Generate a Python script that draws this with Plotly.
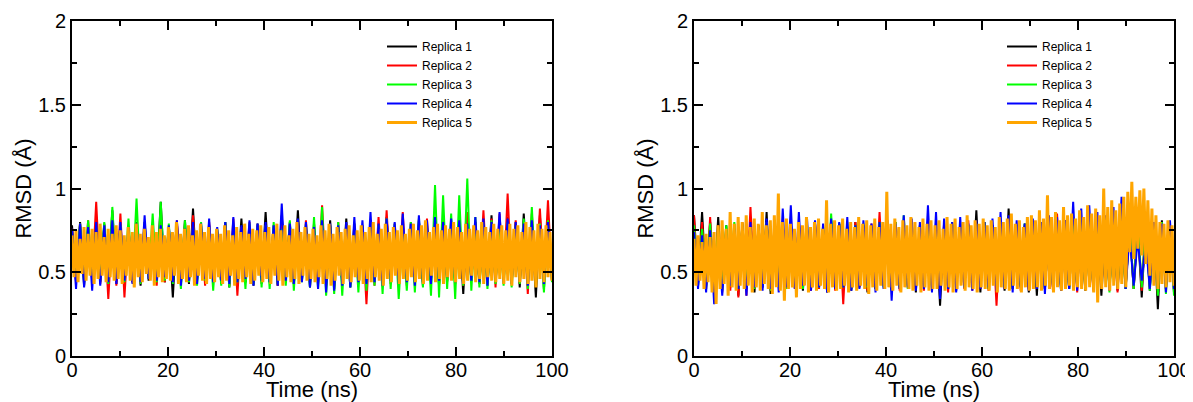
import numpy as np
import plotly.graph_objects as go

labels = ["Replica 1", "Replica 2", "Replica 3", "Replica 4", "Replica 5"]
colors = ["#000000", "#ff0000", "#00ff00", "#0000ff", "#ffa500"]

# ---- left panel, RMSD in Angstrom ----
left_r1 = [
    0.78, 0.45, 0.80, 0.42, 0.76, 0.47, 0.82, 0.44, 0.79, 0.46, 0.87, 0.43,
    0.77, 0.46, 0.74, 0.44, 0.80, 0.42, 0.76, 0.45, 0.78, 0.47, 0.92, 0.44,
    0.75, 0.35, 0.79, 0.46, 0.81, 0.43, 0.88, 0.45, 0.76, 0.44, 0.78, 0.47,
    0.74, 0.43, 0.80, 0.41, 0.77, 0.46, 0.82, 0.44, 0.75, 0.42, 0.79, 0.45,
    0.86, 0.44, 0.78, 0.42, 0.84, 0.46, 0.80, 0.43, 0.87, 0.45, 0.76, 0.41,
    0.79, 0.44, 0.75, 0.42, 0.81, 0.40, 0.77, 0.45, 0.82, 0.41, 0.74, 0.43,
    0.78, 0.40, 0.80, 0.44, 0.76, 0.42, 0.83, 0.45, 0.77, 0.43, 0.79, 0.46,
    0.75, 0.44, 0.81, 0.42, 0.77, 0.46, 0.79, 0.43, 0.80, 0.45, 0.76, 0.44,
    0.78, 0.37, 0.82, 0.45, 0.80, 0.43, 0.76, 0.42, 0.84, 0.44, 0.79, 0.46,
    0.83, 0.43, 0.80, 0.41, 0.85, 0.44, 0.78, 0.35, 0.84, 0.40, 0.81, 0.45,
]
left_r2 = [
    0.76, 0.44, 0.79, 0.46, 0.81, 0.45, 0.92, 0.43, 0.78, 0.34, 0.77, 0.42,
    0.85, 0.35, 0.76, 0.44, 0.78, 0.43, 0.80, 0.46, 0.75, 0.42, 0.79, 0.44,
    0.77, 0.45, 0.81, 0.43, 0.76, 0.44, 0.84, 0.46, 0.78, 0.42, 0.80, 0.45,
    0.75, 0.43, 0.79, 0.42, 0.82, 0.36, 0.77, 0.44, 0.80, 0.45, 0.76, 0.43,
    0.78, 0.44, 0.76, 0.42, 0.80, 0.45, 0.77, 0.43, 0.79, 0.46, 0.81, 0.44,
    0.75, 0.43, 0.90, 0.45, 0.78, 0.42, 0.80, 0.44, 0.76, 0.43, 0.79, 0.45,
    0.77, 0.31, 0.80, 0.42, 0.83, 0.44, 0.87, 0.43, 0.79, 0.45, 0.86, 0.42,
    0.80, 0.44, 0.78, 0.43, 0.82, 0.45, 0.79, 0.42, 0.81, 0.44, 0.77, 0.43,
    0.84, 0.42, 0.86, 0.45, 0.80, 0.43, 0.87, 0.44, 0.82, 0.41, 0.85, 0.43,
    0.97, 0.44, 0.81, 0.43, 0.79, 0.37, 0.85, 0.42, 0.88, 0.44, 0.93, 0.45,
]
left_r3 = [
    0.74, 0.46, 0.79, 0.44, 0.81, 0.47, 0.77, 0.45, 0.80, 0.43, 0.89, 0.46,
    0.78, 0.44, 0.82, 0.45, 0.94, 0.43, 0.80, 0.46, 0.85, 0.44, 0.92, 0.45,
    0.79, 0.43, 0.76, 0.40, 0.81, 0.44, 0.78, 0.42, 0.80, 0.45, 0.77, 0.39,
    0.76, 0.42, 0.80, 0.41, 0.78, 0.44, 0.75, 0.40, 0.79, 0.43, 0.77, 0.41,
    0.78, 0.40, 0.80, 0.43, 0.76, 0.42, 0.81, 0.39, 0.77, 0.44, 0.79, 0.41,
    0.83, 0.40, 0.89, 0.36, 0.78, 0.37, 0.80, 0.36, 0.76, 0.41, 0.79, 0.38,
    0.77, 0.39, 0.80, 0.42, 0.78, 0.37, 0.82, 0.40, 0.79, 0.34, 0.76, 0.39,
    0.80, 0.38, 0.82, 0.41, 0.79, 0.36, 1.02, 0.35, 0.96, 0.40, 0.85, 0.34,
    0.96, 0.42, 1.06, 0.39, 0.83, 0.41, 0.79, 0.40, 0.81, 0.43, 0.78, 0.42,
    0.80, 0.41, 0.78, 0.43, 0.82, 0.40, 0.89, 0.42, 0.79, 0.38, 0.81, 0.44,
]
left_r4 = [
    0.76, 0.40, 0.79, 0.41, 0.77, 0.39, 0.80, 0.42, 0.78, 0.44, 0.81, 0.43,
    0.80, 0.45, 0.77, 0.43, 0.79, 0.44, 0.84, 0.46, 0.60, 0.45, 0.78, 0.47,
    0.78, 0.44, 0.81, 0.42, 0.76, 0.45, 0.80, 0.43, 0.79, 0.46, 0.82, 0.44,
    0.77, 0.45, 0.80, 0.43, 0.83, 0.44, 0.78, 0.46, 0.81, 0.42, 0.79, 0.45,
    0.80, 0.44, 0.78, 0.42, 0.91, 0.45, 0.79, 0.43, 0.82, 0.44, 0.80, 0.41,
    0.77, 0.40, 0.81, 0.38, 0.79, 0.39, 0.78, 0.42, 0.80, 0.41, 0.83, 0.44,
    0.81, 0.43, 0.86, 0.44, 0.79, 0.42, 0.82, 0.45, 0.80, 0.43, 0.85, 0.44,
    0.79, 0.42, 0.84, 0.44, 0.81, 0.43, 0.83, 0.45, 0.80, 0.47, 0.82, 0.44,
    0.81, 0.43, 0.79, 0.45, 0.83, 0.44, 0.82, 0.42, 0.80, 0.46, 0.86, 0.44,
    0.82, 0.43, 0.80, 0.45, 0.79, 0.42, 0.81, 0.44, 0.78, 0.43, 0.80, 0.46,
]
left_r5 = [
    0.72, 0.47, 0.75, 0.44, 0.70, 0.49, 0.77, 0.45, 0.73, 0.48, 0.76, 0.43, 0.74, 0.46, 0.79, 0.48, 0.71, 0.44, 0.76, 0.47, 0.73, 0.45, 0.78, 0.46,
    0.75, 0.43, 0.72, 0.48, 0.77, 0.45, 0.74, 0.41, 0.79, 0.47, 0.73, 0.44, 0.76, 0.49, 0.71, 0.45, 0.78, 0.42, 0.74, 0.47, 0.76, 0.44, 0.72, 0.46,
    0.77, 0.45, 0.74, 0.48, 0.80, 0.43, 0.73, 0.46, 0.76, 0.44, 0.78, 0.47, 0.72, 0.42, 0.75, 0.48, 0.79, 0.45, 0.74, 0.43, 0.77, 0.46, 0.73, 0.44,
    0.76, 0.47, 0.73, 0.43, 0.78, 0.45, 0.75, 0.48, 0.72, 0.42, 0.77, 0.46, 0.74, 0.44, 0.79, 0.47, 0.73, 0.43, 0.76, 0.45, 0.75, 0.48, 0.78, 0.44,
    0.74, 0.46, 0.77, 0.43, 0.73, 0.48, 0.79, 0.45, 0.75, 0.42, 0.78, 0.47, 0.72, 0.44, 0.76, 0.46, 0.80, 0.43, 0.74, 0.48, 0.77, 0.45, 0.73, 0.46,
    0.76, 0.44, 0.72, 0.47, 0.78, 0.43, 0.75, 0.46, 0.79, 0.42, 0.73, 0.45, 0.77, 0.48, 0.74, 0.43, 0.76, 0.46, 0.78, 0.44, 0.72, 0.47, 0.75, 0.45,
    0.78, 0.43, 0.74, 0.46, 0.77, 0.44, 0.80, 0.47, 0.73, 0.45, 0.76, 0.42, 0.79, 0.46, 0.74, 0.44, 0.77, 0.48, 0.75, 0.43, 0.78, 0.46, 0.73, 0.45,
    0.76, 0.47, 0.79, 0.44, 0.75, 0.46, 0.78, 0.43, 0.81, 0.45, 0.74, 0.48, 0.77, 0.44, 0.79, 0.46, 0.75, 0.43, 0.78, 0.47, 0.76, 0.45, 0.80, 0.44,
    0.77, 0.46, 0.74, 0.43, 0.79, 0.45, 0.76, 0.48, 0.78, 0.44, 0.75, 0.46, 0.80, 0.43, 0.77, 0.47, 0.74, 0.45, 0.79, 0.44, 0.76, 0.46, 0.78, 0.43,
    0.75, 0.45, 0.79, 0.42, 0.76, 0.47, 0.78, 0.44, 0.74, 0.46, 0.80, 0.43, 0.77, 0.45, 0.75, 0.41, 0.79, 0.46, 0.76, 0.44, 0.78, 0.47, 0.74, 0.45,
]

# ---- right panel ----
right_r1 = [
    0.84, 0.44, 0.86, 0.42, 0.80, 0.40, 0.83, 0.43, 0.78, 0.41, 0.76, 0.36,
    0.79, 0.40, 0.81, 0.38, 0.78, 0.41, 0.86, 0.37, 0.80, 0.42, 0.77, 0.40,
    0.78, 0.41, 0.80, 0.39, 0.76, 0.40, 0.79, 0.42, 0.77, 0.38, 0.81, 0.40,
    0.79, 0.40, 0.77, 0.39, 0.80, 0.41, 0.78, 0.38, 0.76, 0.40, 0.79, 0.42,
    0.77, 0.39, 0.80, 0.40, 0.78, 0.42, 0.79, 0.38, 0.77, 0.41, 0.80, 0.39,
    0.78, 0.30, 0.76, 0.40, 0.79, 0.39, 0.80, 0.41, 0.78, 0.40, 0.87, 0.38,
    0.80, 0.40, 0.78, 0.41, 0.79, 0.39, 0.88, 0.40, 0.77, 0.42, 0.79, 0.38,
    0.78, 0.36, 0.80, 0.40, 0.79, 0.41, 0.77, 0.39, 0.81, 0.40, 0.80, 0.41,
    0.80, 0.39, 0.81, 0.40, 0.78, 0.36, 0.79, 0.41, 0.80, 0.39, 0.78, 0.40,
    0.79, 0.40, 0.77, 0.35, 0.80, 0.39, 0.78, 0.28, 0.81, 0.40, 0.79, 0.38,
]
right_r2 = [
    0.84, 0.42, 0.80, 0.40, 0.83, 0.41, 0.78, 0.38, 0.76, 0.39, 0.79, 0.35,
    0.80, 0.36, 0.89, 0.40, 0.78, 0.41, 0.80, 0.39, 0.77, 0.42, 0.79, 0.40,
    0.78, 0.40, 0.80, 0.41, 0.77, 0.39, 0.79, 0.40, 0.76, 0.42, 0.78, 0.39,
    0.79, 0.31, 0.77, 0.40, 0.80, 0.41, 0.78, 0.39, 0.79, 0.40, 0.86, 0.42,
    0.78, 0.40, 0.80, 0.39, 0.79, 0.41, 0.77, 0.40, 0.78, 0.39, 0.80, 0.41,
    0.77, 0.40, 0.79, 0.38, 0.80, 0.41, 0.78, 0.40, 0.81, 0.39, 0.79, 0.40,
    0.80, 0.39, 0.78, 0.30, 0.79, 0.40, 0.80, 0.41, 0.77, 0.39, 0.78, 0.40,
    0.79, 0.41, 0.80, 0.40, 0.78, 0.39, 0.85, 0.41, 0.79, 0.40, 0.80, 0.38,
    0.81, 0.40, 0.79, 0.39, 0.80, 0.41, 0.78, 0.40, 0.79, 0.38, 0.80, 0.41,
    0.78, 0.40, 0.79, 0.39, 0.80, 0.41, 0.78, 0.37, 0.79, 0.40, 0.77, 0.39,
]
right_r3 = [
    0.78, 0.42, 0.76, 0.40, 0.79, 0.41, 0.77, 0.39, 0.78, 0.42, 0.80, 0.40,
    0.79, 0.41, 0.77, 0.40, 0.78, 0.42, 0.80, 0.39, 0.79, 0.41, 0.78, 0.40,
    0.80, 0.41, 0.78, 0.40, 0.79, 0.42, 0.77, 0.41, 0.78, 0.40, 0.85, 0.42,
    0.79, 0.41, 0.80, 0.40, 0.78, 0.42, 0.79, 0.41, 0.77, 0.40, 0.80, 0.41,
    0.78, 0.42, 0.80, 0.41, 0.84, 0.40, 0.79, 0.42, 0.78, 0.41, 0.80, 0.40,
    0.79, 0.41, 0.78, 0.40, 0.80, 0.42, 0.79, 0.41, 0.78, 0.40, 0.79, 0.41,
    0.80, 0.40, 0.78, 0.42, 0.79, 0.41, 0.80, 0.40, 0.78, 0.41, 0.79, 0.42,
    0.78, 0.41, 0.80, 0.40, 0.79, 0.42, 0.78, 0.41, 0.80, 0.40, 0.79, 0.41,
    0.80, 0.40, 0.79, 0.41, 0.78, 0.42, 0.80, 0.38, 0.79, 0.41, 0.78, 0.40,
    0.79, 0.40, 0.80, 0.41, 0.78, 0.39, 0.79, 0.36, 0.80, 0.37, 0.78, 0.36,
]
right_r4 = [
    0.74, 0.40, 0.72, 0.38, 0.75, 0.31, 0.70, 0.36, 0.73, 0.42, 0.76, 0.40,
    0.78, 0.36, 0.80, 0.41, 0.77, 0.39, 0.82, 0.40, 0.79, 0.38, 0.88, 0.41,
    0.90, 0.40, 0.86, 0.42, 0.83, 0.39, 0.81, 0.41, 0.79, 0.38, 0.82, 0.40,
    0.80, 0.41, 0.83, 0.39, 0.78, 0.40, 0.81, 0.42, 0.79, 0.38, 0.80, 0.40,
    0.81, 0.33, 0.79, 0.40, 0.84, 0.41, 0.82, 0.39, 0.80, 0.40, 0.90, 0.38,
    0.86, 0.34, 0.82, 0.40, 0.80, 0.38, 0.83, 0.41, 0.79, 0.39, 0.81, 0.40,
    0.80, 0.41, 0.82, 0.39, 0.86, 0.40, 0.84, 0.38, 0.81, 0.41, 0.79, 0.39,
    0.82, 0.40, 0.80, 0.37, 0.84, 0.41, 0.83, 0.39, 0.81, 0.40, 0.92, 0.39,
    0.88, 0.41, 0.90, 0.40, 0.86, 0.42, 0.84, 0.39, 0.89, 0.41, 0.95, 0.40,
    0.72, 0.42, 0.70, 0.45, 0.68, 0.40, 0.80, 0.42, 0.79, 0.38, 0.81, 0.40,
]
right_r5 = [
    0.70, 0.42, 0.72, 0.45, 0.68, 0.40, 0.73, 0.44, 0.71, 0.38, 0.74, 0.31, 0.78, 0.40, 0.81, 0.43, 0.76, 0.36, 0.86, 0.41, 0.79, 0.39, 0.83, 0.42,
    0.80, 0.40, 0.84, 0.42, 0.77, 0.38, 0.82, 0.41, 0.79, 0.39, 0.86, 0.43, 0.78, 0.40, 0.81, 0.37, 0.84, 0.41, 0.97, 0.39, 0.80, 0.33, 0.82, 0.40,
    0.79, 0.41, 0.76, 0.35, 0.80, 0.40, 0.78, 0.42, 0.83, 0.38, 0.77, 0.41, 0.80, 0.39, 0.82, 0.42, 0.76, 0.40, 0.93, 0.38, 0.79, 0.41, 0.81, 0.39,
    0.78, 0.40, 0.82, 0.42, 0.76, 0.38, 0.80, 0.41, 0.77, 0.39, 0.83, 0.42, 0.79, 0.40, 0.81, 0.37, 0.78, 0.41, 0.82, 0.39, 0.77, 0.42, 0.80, 0.40,
    0.98, 0.41, 0.79, 0.39, 0.82, 0.42, 0.77, 0.38, 0.81, 0.41, 0.78, 0.40, 0.83, 0.39, 0.80, 0.42, 0.77, 0.38, 0.82, 0.41, 0.79, 0.39, 0.81, 0.40,
    0.78, 0.40, 0.81, 0.42, 0.76, 0.39, 0.83, 0.41, 0.79, 0.38, 0.82, 0.40, 0.77, 0.42, 0.80, 0.39, 0.84, 0.41, 0.78, 0.40, 0.81, 0.38, 0.79, 0.41,
    0.82, 0.40, 0.78, 0.39, 0.81, 0.42, 0.77, 0.38, 0.83, 0.41, 0.80, 0.40, 0.82, 0.39, 0.85, 0.42, 0.79, 0.40, 0.81, 0.38, 0.77, 0.41, 0.83, 0.39,
    0.84, 0.40, 0.81, 0.41, 0.87, 0.39, 0.82, 0.42, 0.96, 0.40, 0.83, 0.38, 0.86, 0.41, 0.81, 0.39, 0.89, 0.40, 0.84, 0.42, 0.85, 0.39, 0.82, 0.41,
    0.87, 0.40, 0.83, 0.39, 0.90, 0.41, 0.85, 0.38, 0.88, 0.32, 0.84, 0.40, 1.00, 0.41, 0.89, 0.39, 0.93, 0.42, 0.87, 0.40, 0.91, 0.43, 0.95, 0.41,
    0.98, 0.62, 1.04, 0.58, 0.95, 0.64, 0.99, 0.60, 1.00, 0.55, 0.93, 0.48, 0.88, 0.42, 0.84, 0.40, 0.80, 0.43, 0.79, 0.41, 0.81, 0.44, 0.78, 0.42,
]

left_series = [left_r1, left_r2, left_r3, left_r4, left_r5]
right_series = [right_r1, right_r2, right_r3, right_r4, right_r5]

font_family = "Liberation Sans, Arial, sans-serif"

# the page body adds an 8 px margin, so the figure is drawn 8 px smaller
W, H = 1185, 394


def axis_style(dtick, minor_dtick, rng, domain, anchor, title, standoff, label_shift):
    return dict(
        domain=domain, anchor=anchor, range=rng, dtick=dtick, automargin=False,
        ticks="inside", ticklen=9, tickwidth=1.5, tickcolor="black",
        minor=dict(dtick=minor_dtick, ticks="inside", ticklen=5, tickwidth=1.5,
                   tickcolor="black", showgrid=False),
        showline=True, linewidth=2, linecolor="black", mirror="ticks",
        showgrid=False, zeroline=False, ticklabelstandoff=label_shift,
        tickfont=dict(size=20, color="black"),
        title=dict(text=title, font=dict(size=22, color="black"), standoff=standoff),
    )


fig = go.Figure()

for series, xa, ya, leg in [(left_series, "x", "y", "legend"),
                            (right_series, "x2", "y2", "legend2")]:
    for i, vals in enumerate(series):
        time = np.linspace(0, 100, len(vals))
        fig.add_trace(go.Scatter(
            x=time, y=vals, mode="lines", name=labels[i],
            line=dict(color=colors[i], width=3 if i == 4 else 2, simplify=False),
            xaxis=xa, yaxis=ya, legend=leg,
        ))

y_dom = [46 / H, 381 / H]
fig.update_layout(
    width=W, height=H,
    margin=dict(l=0, r=0, t=0, b=0),
    paper_bgcolor="white", plot_bgcolor="white",
    font=dict(family=font_family, color="black"),
    xaxis=axis_style(20, 10, [0, 100], [64 / W, 544 / W], "y", "Time (ns)", 8, -5),
    yaxis=axis_style(0.5, 0.25, [0, 2], y_dom, "x", "RMSD (Å)", 0, 0),
    xaxis2=axis_style(20, 10, [0, 100], [686 / W, 1166 / W], "y2", "Time (ns)", 8, -5),
    yaxis2=axis_style(0.5, 0.25, [0, 2], y_dom, "x2", "RMSD (Å)", 0, 0),
    legend=dict(x=374 / W, y=1 - 24 / H, xanchor="left", yanchor="top",
                font=dict(size=12), bgcolor="rgba(0,0,0,0)", tracegroupgap=0),
    legend2=dict(x=994 / W, y=1 - 24 / H, xanchor="left", yanchor="top",
                 font=dict(size=12), bgcolor="rgba(0,0,0,0)", tracegroupgap=0),
    showlegend=True,
)

fig.write_html("out.html")
